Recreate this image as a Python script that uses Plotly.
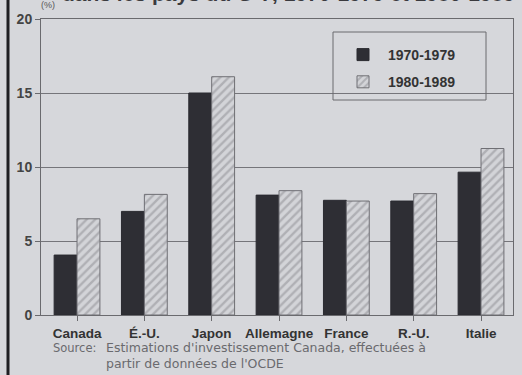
import plotly.graph_objects as go

categories = ["Canada", "É.-U.", "Japon", "Allemagne", "France", "R.-U.", "Italie"]
series_names = ["1970-1979", "1980-1989"]
values_7079 = [4.05, 7.0, 15.0, 8.1, 7.75, 7.7, 9.65]
values_8089 = [6.5, 8.15, 16.1, 8.4, 7.7, 8.2, 11.25]
y_ticks = [0, 5, 10, 15, 20]

BG = "#d6d7db"
FONT = "Liberation Sans, Arial, Helvetica, sans-serif"
FONT2 = "DejaVu Sans, Verdana, sans-serif"

W, H = 522, 375
L, R, T, B = 41, 9, 19, 60
pw, ph = W - L - R, H - T - B

def px(x):
    return (x - L) / pw

def py(y):
    return 1 - (y - T) / ph

fig = go.Figure()
fig.add_trace(go.Bar(
    x=categories, y=values_7079, name=series_names[0],
    marker=dict(color="#2e2e34", line=dict(color="#2a2a30", width=1)),
    legendgroup="a",
))
fig.add_trace(go.Bar(
    x=categories, y=values_8089, name=series_names[1],
    marker=dict(color="#d0d1d5", line=dict(color="#6f6f74", width=1),
                pattern=dict(shape="/", fgcolor="#8c8c91", bgcolor="#d3d4d8",
                             size=6, solidity=0.4)),
    legendgroup="b",
))

fig.update_layout(
    width=W, height=H,
    margin=dict(l=L, r=R, t=T, b=B),
    paper_bgcolor=BG, plot_bgcolor=BG,
    font=dict(family=FONT, color="#333"),
    barmode="group", bargap=0.32, bargroupgap=0,
    showlegend=True,
    legend=dict(
        x=px(338), y=py(39), xanchor="left", yanchor="top",
        bgcolor="rgba(0,0,0,0)", borderwidth=0,
        font=dict(family=FONT, size=14, color="#333", weight="bold"),
        tracegroupgap=6, itemwidth=40,
    ),
    xaxis=dict(
        range=[-0.535, 6.475],
        showline=True, linecolor="#6a6a6e", linewidth=1, mirror=True,
        ticks="outside", ticklen=5, tickcolor="#6a6a6e",
        tickfont=dict(family=FONT, size=13.5, color="#333", weight="bold"),
        ticklabelstandoff=1,
        showgrid=False,
    ),
    yaxis=dict(
        range=[0, 20], tickvals=y_ticks,
        showline=True, linecolor="#6a6a6e", linewidth=1, mirror=True,
        ticks="outside", ticklen=5, tickcolor="#6a6a6e",
        tickfont=dict(family=FONT, size=14, color="#444", weight="bold"),
        showgrid=True, gridcolor="#75757a", gridwidth=1,
        zeroline=False,
    ),
    shapes=[
        dict(type="rect", xref="paper", yref="paper",
             x0=px(333), x1=px(486), y0=py(100), y1=py(32),
             line=dict(color="#6a6a6e", width=1)),
        dict(type="line", xref="paper", yref="paper",
             x0=px(8), x1=px(8), y0=py(380), y1=py(-5),
             line=dict(color="#1e1e22", width=3)),
    ],
    annotations=[
        dict(text="dans les pays du G-7, 1970-1979 et 1980-1989", xref="paper", yref="paper",
             x=px(60), y=py(7.5), xanchor="left", yanchor="bottom", showarrow=False,
             font=dict(family=FONT, size=21, color="#3a3a3e", weight="bold")),
        dict(text="(%)", xref="paper", yref="paper",
             x=px(39), y=py(12), xanchor="left", yanchor="bottom", showarrow=False,
             font=dict(family=FONT, size=9, color="#555")),
        dict(text="Source:", xref="paper", yref="paper",
             x=px(51), y=py(338.5), xanchor="left", yanchor="top", showarrow=False,
             font=dict(family=FONT2, size=11.5, color="#6a6a6e")),
        dict(text="Estimations d'investissement Canada, effectuées à<br>partir de données de l'OCDE",
             xref="paper", yref="paper", align="left",
             x=px(104), y=py(338), xanchor="left", yanchor="top", showarrow=False,
             font=dict(family=FONT2, size=12.5, color="#6a6a6e")),
    ],
)

fig.write_html("out.html")
